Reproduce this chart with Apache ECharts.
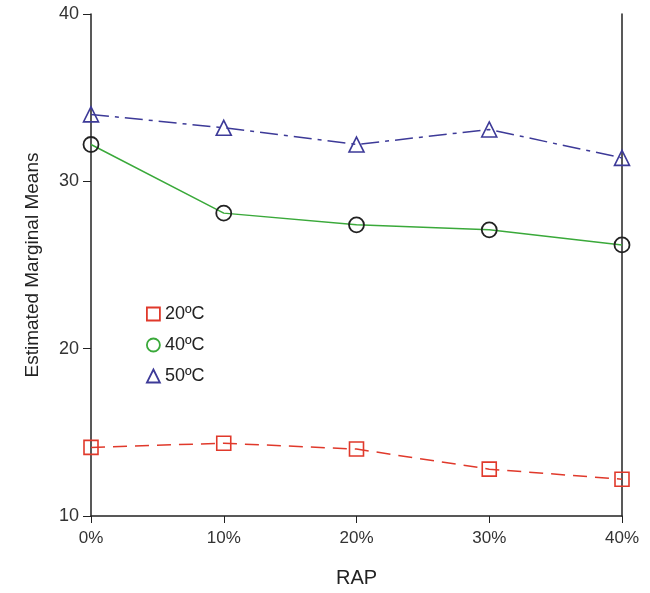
<!DOCTYPE html>
<html><head><meta charset="utf-8">
<script src="https://cdn.jsdelivr.net/npm/echarts@6/dist/echarts.min.js"></script>
<style>html,body{margin:0;padding:0;background:#fff}#c{width:650px;height:593px}</style>
</head><body><div id="c"></div>
<script>
const rap = [0, 10, 20, 30, 40];
const t20 = [14.1, 14.35, 14.0, 12.8, 12.2];
const t40 = [32.2, 28.1, 27.4, 27.1, 26.2];
const t50 = [34.0, 33.2, 32.2, 33.1, 31.4];
const names = ['20ºC', '40ºC', '50ºC'];
const yTicks = [10, 20, 30, 40];

const font = 'Liberation Sans, Arial, sans-serif';
const red = '#e0392b', green = '#3aa93a', blue = '#3d3a98';
function pts(v){ return rap.map((x,i)=>[x, v[i]]); }

const chart = echarts.init(document.getElementById('c'));
chart.setOption({
  animation: false,
  backgroundColor: '#fff',
  grid: {left: 91, right: 28, top: 14, bottom: 67},
  xAxis: {
    type: 'value', min: 0, max: 40, interval: 10,
    name: 'RAP', nameLocation: 'middle', nameGap: 52,
    nameTextStyle: {fontFamily: font, fontSize: 20, color: '#222'},
    axisLine: {lineStyle: {color: '#222', width: 1.5}},
    axisTick: {show: true, length: 7, lineStyle: {color: '#222'}},
    axisLabel: {fontFamily: font, fontSize: 17, color: '#333', margin: 14, formatter: v => v + '%'},
    splitLine: {show: false}
  },
  yAxis: [{
    type: 'value', min: yTicks[0], max: yTicks[yTicks.length-1], interval: 10,
    name: 'Estimated Marginal Means', nameLocation: 'middle', nameGap: 49,
    nameTextStyle: {fontFamily: font, fontSize: 19, color: '#222'},
    axisLine: {show: true, lineStyle: {color: '#222', width: 1.5}},
    axisTick: {show: true, length: 8, lineStyle: {color: '#222'}},
    axisLabel: {fontFamily: font, fontSize: 18, color: '#333', margin: 12},
    splitLine: {show: false}
  }, {
    type: 'value', min: 10, max: 40, position: 'right',
    axisLine: {show: true, onZero: false, lineStyle: {color: '#222', width: 1.5}},
    axisTick: {show: false}, axisLabel: {show: false}, splitLine: {show: false}
  }],
  legend: {
    orient: 'vertical', left: 141, top: 300, itemGap: 13,
    itemWidth: 13, itemHeight: 13,
    textStyle: {fontFamily: font, fontSize: 18, color: '#222'},
    data: [
      {name: names[0], icon: 'rect', itemStyle: {color: 'rgba(0,0,0,0)', borderColor: red, borderWidth: 1.8}},
      {name: names[1], icon: 'circle', itemStyle: {color: 'rgba(0,0,0,0)', borderColor: green, borderWidth: 1.8}},
      {name: names[2], icon: 'triangle', itemStyle: {color: 'rgba(0,0,0,0)', borderColor: blue, borderWidth: 1.8}}
    ]
  },
  series: [
    {name: names[0], type: 'line', data: pts(t20), symbol: 'rect', symbolSize: 14,
     lineStyle: {color: red, width: 1.5, type: [14, 8]},
     itemStyle: {color: 'rgba(0,0,0,0)', borderColor: red, borderWidth: 1.6}},
    {name: names[1], type: 'line', data: pts(t40), symbol: 'circle', symbolSize: 15,
     lineStyle: {color: green, width: 1.5},
     itemStyle: {color: 'rgba(0,0,0,0)', borderColor: '#222', borderWidth: 1.8}},
    {name: names[2], type: 'line', data: pts(t50), symbol: 'triangle', symbolSize: 15,
     lineStyle: {color: blue, width: 1.5, type: [18, 6, 4, 6]},
     itemStyle: {color: 'rgba(0,0,0,0)', borderColor: blue, borderWidth: 1.6}}
  ]
});
</script></body></html>
